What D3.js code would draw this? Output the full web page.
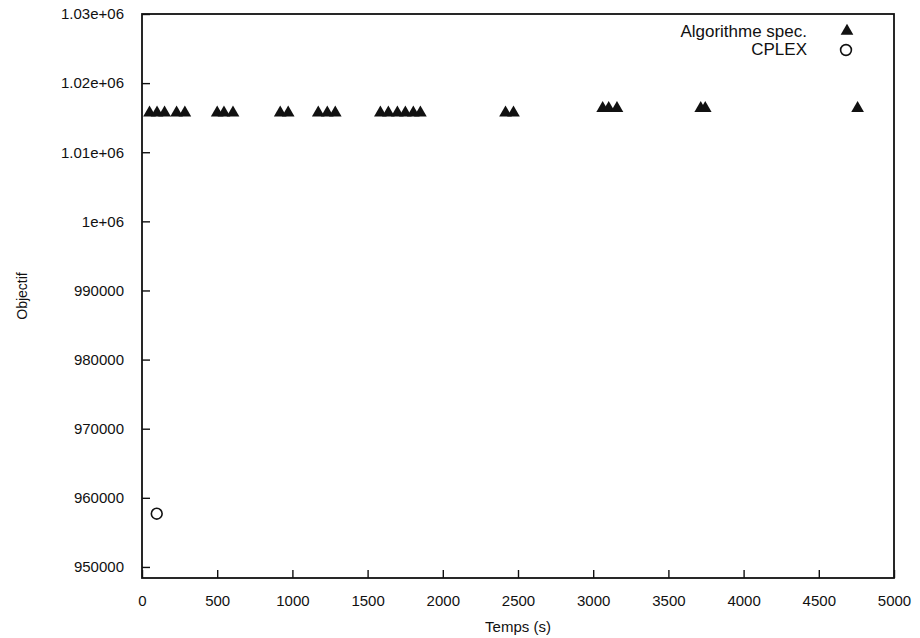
<!DOCTYPE html>
<html><head><meta charset="utf-8">
<script src="https://cdn.jsdelivr.net/npm/d3@7"></script>
<style>body{margin:0;background:#fff}svg{display:block}text{font-family:"Liberation Sans",Arial,sans-serif;fill:#111}</style>
</head><body><svg id="c" width="920" height="638"></svg>
<script>
const algoTimes = [50, 100, 150, 230, 285, 500, 545, 605, 919, 972, 1172, 1232, 1285, 1585, 1638, 1698, 1751, 1804, 1851, 2417, 2470, 3063, 3103, 3158, 3715, 3745, 4758];
const algoObj = [1015700, 1015700, 1015700, 1015700, 1015700, 1015700, 1015700, 1015700, 1015700, 1015700, 1015700, 1015700, 1015700, 1015700, 1015700, 1015700, 1015700, 1015700, 1015700, 1015700, 1015700, 1016350, 1016350, 1016350, 1016350, 1016350, 1016350];
const cplexTimes = [98];
const cplexObj = [957700];
const xTicks = [0, 500, 1000, 1500, 2000, 2500, 3000, 3500, 4000, 4500, 5000];
const yTicks = [950000, 960000, 970000, 980000, 990000, 1000000, 1010000, 1020000, 1030000];
const yTickLabels = ["950000", "960000", "970000", "980000", "990000", "1e+06", "1.01e+06", "1.02e+06", "1.03e+06"];
const seriesNames = ["Algorithme spec.", "CPLEX"];

const svg = d3.select("#c");
const L = 142, R = 894, T = 14, B = 578;
const x = d3.scaleLinear().domain([0, 5000]).range([L, R]);
const y = d3.scaleLinear().domain([948400, 1030000]).range([B, T]);

// frame
svg.append("rect").attr("x", L).attr("y", T).attr("width", R - L).attr("height", B - T)
  .attr("fill", "none").attr("stroke", "#111").attr("stroke-width", 1.8);

// x axis (ticks inward)
const xa = svg.append("g").attr("transform", `translate(0,${B})`)
  .call(d3.axisBottom(x).tickValues(xTicks).tickSizeInner(-8).tickSizeOuter(0).tickPadding(17).tickFormat(d3.format("d")));
xa.select(".domain").remove();
xa.selectAll("line").attr("stroke", "#111").attr("stroke-width", 1.4);
xa.selectAll("text").attr("font-size", 15).attr("fill", "#111");

// y axis
const ya = svg.append("g").attr("transform", `translate(${L},0)`)
  .call(d3.axisLeft(y).tickValues(yTicks).tickSizeInner(-8).tickSizeOuter(0).tickPadding(18)
    .tickFormat((d, i) => yTickLabels[i]));
ya.select(".domain").remove();
ya.selectAll("line").attr("stroke", "#111").attr("stroke-width", 1.4);
ya.selectAll("text").attr("font-size", 15).attr("fill", "#111");

// axis titles
svg.append("text").attr("x", (L + R) / 2).attr("y", 632).attr("text-anchor", "middle")
  .attr("font-size", 15).text("Temps (s)");
svg.append("text").attr("transform", `translate(27,${(T + B) / 2}) rotate(-90)`)
  .attr("text-anchor", "middle").attr("font-size", 14).text("Objectif");

// data
const tri = d3.symbol().type(d3.symbolTriangle).size(70);
const algo = algoTimes.map((t, i) => ({t, v: algoObj[i]}));
svg.append("g").selectAll("path").data(algo).join("path")
  .attr("d", tri).attr("fill", "#111")
  .attr("transform", d => `translate(${x(d.t)},${y(d.v)})`);

const cplex = cplexTimes.map((t, i) => ({t, v: cplexObj[i]}));
svg.append("g").selectAll("circle").data(cplex).join("circle")
  .attr("cx", d => x(d.t)).attr("cy", d => y(d.v)).attr("r", 5.4)
  .attr("fill", "none").attr("stroke", "#111").attr("stroke-width", 1.6);

// legend
const lg = svg.append("g");
lg.append("text").attr("x", 807).attr("y", 37).attr("text-anchor", "end").attr("font-size", 17).text(seriesNames[0]);
lg.append("text").attr("x", 807).attr("y", 55).attr("text-anchor", "end").attr("font-size", 17).text(seriesNames[1]);
lg.append("path").attr("d", tri).attr("fill", "#111").attr("transform", "translate(847,31)");
lg.append("circle").attr("cx", 846).attr("cy", 50).attr("r", 5.4).attr("fill", "none").attr("stroke", "#111").attr("stroke-width", 1.6);
</script></body></html>
